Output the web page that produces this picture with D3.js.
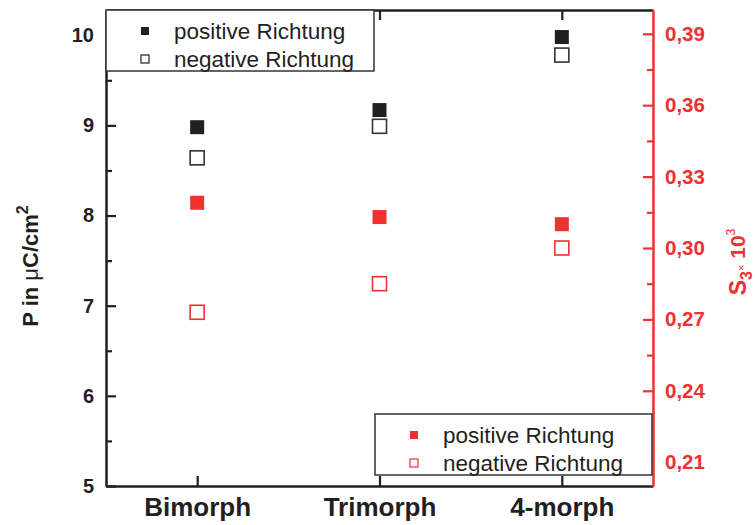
<!DOCTYPE html>
<html>
<head>
<meta charset="utf-8">
<script src="https://cdn.jsdelivr.net/npm/d3@7"></script>
<style>
  html, body { margin: 0; padding: 0; background: #fff; }
  svg { display: block; font-family: "Liberation Sans", Arial, Helvetica, sans-serif; }
</style>
</head>
<body>
<svg id="chart" width="755" height="525"></svg>
<script>
// Categories (sample types) and their positions on the x axis
const categories = ["Bimorph", "Trimorph", "4-morph"];
const categoryPos = [1, 2, 3];

// Polarisation P (µC/cm²), left axis
const pPositive = [8.98, 9.17, 9.98];
const pNegative = [8.64, 8.99, 9.78];

// Strain S3 × 10³, right axis
const sPositive = [0.319, 0.313, 0.310];
const sNegative = [0.273, 0.285, 0.300];

// Tick values
const leftTicks = [5, 6, 7, 8, 9, 10];
const leftMinorTicks = [5.5, 6.5, 7.5, 8.5, 9.5];
const rightTicks = [0.21, 0.24, 0.27, 0.30, 0.33, 0.36, 0.39];
const rightMinorTicks = [0.225, 0.255, 0.285, 0.315, 0.345, 0.375];

const legendLabels = ["positive Richtung", "negative Richtung"];

const BLACK = "#231f20";
const RED = "#ee3131";

const svg = d3.select("#chart");
const plotLeft = 106, plotRight = 653, plotTop = 10, plotBottom = 486;

const x = d3.scaleLinear().domain([0.5, 3.5]).range([plotLeft, plotRight]);
const yL = d3.scaleLinear().domain([5, 10.28]).range([plotBottom, plotTop]);
const yR = d3.scaleLinear().domain([0.2, 0.4]).range([plotBottom, plotTop]);

function styleAxis(g, color, fontSize) {
  g.select(".domain").attr("stroke", color).attr("stroke-width", 2.5);
  g.selectAll(".tick line").attr("stroke", color).attr("stroke-width", 2.2);
  g.selectAll(".tick text")
    .attr("fill", color)
    .attr("font-size", fontSize)
    .attr("font-weight", "bold")
    .attr("font-family", "'Liberation Sans', Arial, sans-serif");
}

// Left axis (major + minor ticks, pointing inward)
const gL = svg.append("g").attr("transform", `translate(${plotLeft},0)`)
  .call(d3.axisLeft(yL).tickValues(leftTicks).tickSizeInner(-10).tickSizeOuter(0).tickPadding(12).tickFormat(d3.format("d")));
styleAxis(gL, BLACK, 20);
const gLm = svg.append("g").attr("transform", `translate(${plotLeft},0)`)
  .call(d3.axisLeft(yL).tickValues(leftMinorTicks).tickSizeInner(-6).tickSizeOuter(0).tickFormat(""));
styleAxis(gLm, BLACK, 20);
gLm.select(".domain").remove();

// Bottom axis with category labels
const gB = svg.append("g").attr("transform", `translate(0,${plotBottom})`)
  .call(d3.axisBottom(x).tickValues(categoryPos).tickSizeInner(-10).tickSizeOuter(0).tickPadding(12)
    .tickFormat((d, i) => categories[i]));
styleAxis(gB, BLACK, 26);

// Top axis (ticks only)
const gT = svg.append("g").attr("transform", `translate(0,${plotTop})`)
  .call(d3.axisTop(x).tickValues(categoryPos).tickSizeInner(-10).tickSizeOuter(0).tickFormat(""));
styleAxis(gT, BLACK, 20);

// Right axis in red
const commaFmt = d => d3.format(".2f")(d).replace(".", ",");
const gR = svg.append("g").attr("transform", `translate(${plotRight},0)`)
  .call(d3.axisRight(yR).tickValues(rightTicks).tickSizeInner(-10).tickSizeOuter(0).tickPadding(12).tickFormat(commaFmt));
styleAxis(gR, RED, 20.5);
const gRm = svg.append("g").attr("transform", `translate(${plotRight},0)`)
  .call(d3.axisRight(yR).tickValues(rightMinorTicks).tickSizeInner(-6).tickSizeOuter(0).tickFormat(""));
styleAxis(gRm, RED, 20);
gRm.select(".domain").remove();

// Axis titles
svg.append("text")
  .attr("transform", `translate(38,${(plotTop + plotBottom) / 2 + 18}) rotate(-90)`)
  .attr("text-anchor", "middle")
  .attr("font-size", 22).attr("font-weight", "bold").attr("fill", BLACK)
  .call(t => {
    t.append("tspan").text("P in ");
    t.append("tspan").attr("font-weight", "normal").text("\u03bc");
    t.append("tspan").text("C/cm");
    t.append("tspan").attr("dy", -10).attr("font-size", 16).text("2");
  });

svg.append("text")
  .attr("transform", `translate(746,${(plotTop + plotBottom) / 2 + 14}) rotate(-90)`)
  .attr("text-anchor", "middle")
  .attr("font-size", 23).attr("font-weight", "bold").attr("fill", RED)
  .call(t => {
    t.append("tspan").text("S");
    t.append("tspan").attr("dy", 6).attr("font-size", 16).text("3");
    t.append("tspan").attr("dy", -7).attr("font-size", 11).attr("font-weight", "normal").text("\u00d7");
    t.append("tspan").attr("font-size", 21).text(" 10");
    t.append("tspan").attr("dy", -10).attr("font-size", 12).attr("font-weight", "normal").text("3");
  });

// Data markers
const S = 14;
const marks = svg.append("g");
function squares(values, scale, filled, color) {
  marks.selectAll(null).data(values).enter().append("rect")
    .attr("x", (d, i) => x(categoryPos[i]) - S / 2)
    .attr("y", d => scale(d) - S / 2)
    .attr("width", S).attr("height", S)
    .attr("fill", filled ? color : "#fff")
    .attr("stroke", filled ? "none" : color)
    .attr("stroke-width", filled ? 0 : 1.6);
}
squares(pPositive, yL, true, BLACK);
squares(pNegative, yL, false, "#333");
squares(sPositive, yR, true, RED);
squares(sNegative, yR, false, RED);

// Legends
function legend(x0, y0, w, h, color) {
  const g = svg.append("g");
  g.append("rect").attr("x", x0).attr("y", y0).attr("width", w).attr("height", h)
    .attr("fill", "#fff").attr("stroke", "#333").attr("stroke-width", 1.5);
  const rows = [y0 + 21, y0 + 49];
  const m = 8;
  rows.forEach((yy, i) => {
    g.append("rect").attr("x", x0 + 39 - m / 2).attr("y", yy - m / 2).attr("width", m).attr("height", m)
      .attr("fill", i === 0 ? color : "#fff")
      .attr("stroke", i === 0 ? "none" : color).attr("stroke-width", 1.2);
    g.append("text").attr("x", x0 + 68).attr("y", yy).attr("dy", "0.35em")
      .attr("font-size", 22.5).attr("fill", BLACK).text(legendLabels[i]);
  });
}
legend(plotLeft, plotTop, 268, 61, BLACK);
legend(375, 414, 277, 61, RED);
</script>
</body>
</html>
